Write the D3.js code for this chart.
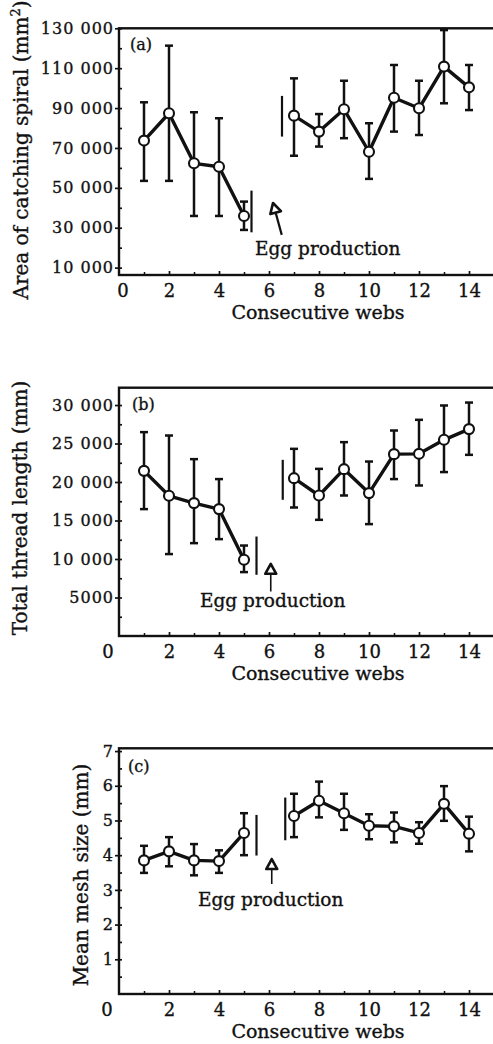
<!DOCTYPE html>
<html>
<head>
<meta charset="utf-8">
<script src="https://cdn.jsdelivr.net/npm/d3@7"></script>
<style>
  body { margin: 0; background: #fff; }
  svg text { font-family: "DejaVu Serif", serif; fill: #111; stroke: #111; stroke-width: 0.35px; }
</style>
</head>
<body>
<div id="chart"></div>
<script>
// D A T A
var webs = [1, 2, 3, 4, 5, 7, 8, 9, 10, 11, 12, 13, 14];
var webTicks = [2, 4, 6, 8, 10, 12, 14];
var webMinor = [1, 3, 5, 7, 9, 11, 13];

// (a) area of catching spiral, mm2
var spiralMean = [73700, 87400, 62300, 60600, 35900, 86200, 78200, 89400, 68100, 95200, 89900, 110800, 100400];
var spiralHi   = [92900, 121300, 87900, 84900, 43100, 104900, 87000, 103700, 82400, 111600, 103700, 129100, 111600];
var spiralLo   = [53500, 53500, 35900, 35900, 28900, 66100, 70700, 74900, 54500, 78200, 76500, 92400, 89000];
var spiralTicks = [10000, 30000, 50000, 70000, 90000, 110000, 130000];
var spiralMinor = [20000, 40000, 60000, 80000, 100000, 120000];
var spiralBreaks = [[5.3, 27700, 48600], [6.52, 75700, 96100]];

// (b) total thread length, mm
var threadMean = [21450, 18210, 17260, 16480, 9900, 20500, 18250, 21670, 18560, 23620, 23660, 25480, 26870];
var threadHi   = [26480, 26040, 22970, 20380, 11750, 24310, 21710, 25180, 22660, 26690, 28080, 29940, 30320];
var threadLo   = [16480, 10640, 12060, 12580, 8300, 16690, 15090, 18250, 14530, 20380, 19550, 21290, 23530];
var threadTicks = [5000, 10000, 15000, 20000, 25000, 30000];
var threadMinor = [2500, 7500, 12500, 17500, 22500, 27500];
var threadBreaks = [[5.5, 7950, 12920], [6.55, 17690, 22880]];

// (c) mean mesh size, mm
var meshMean = [3.85, 4.11, 3.85, 3.83, 4.64, 5.13, 5.57, 5.21, 4.85, 4.83, 4.64, 5.48, 4.62];
var meshHi   = [4.27, 4.52, 4.32, 4.14, 5.21, 5.77, 6.12, 5.77, 5.18, 5.23, 4.95, 5.99, 5.11];
var meshLo   = [3.49, 3.68, 3.42, 3.49, 4.00, 4.52, 5.09, 4.73, 4.46, 4.37, 4.33, 4.99, 4.11];
var meshTicks = [1, 2, 3, 4, 5, 6, 7];
var meshMinor = [0.5, 1.5, 2.5, 3.5, 4.5, 5.5, 6.5];
var meshBreaks = [[5.5, 3.99, 5.16], [6.65, 4.43, 5.66]];

// annotation anchors, in data units: arrow [tailX, tailY, tipX, tipY], text [x, y]
var eggArrows = [[6.51, 26400, 6.16, 42400], [6.07, 5780, 6.07, 9380], [6.11, 3.17, 6.11, 3.89]];
var eggText = [[5.44, 16400], [3.24, 3830], [3.16, 2.54]];
var panelTags = ['(a)', '(b)', '(c)'];
var tagPos = [[0.44, 119300], [0.52, 29300], [0.36, 6.4]];
var yTitles = ['Area of catching spiral (mm', 'Total thread length (mm)', 'Mean mesh size (mm)'];
var xTitle = 'Consecutive webs';

window.onload = function () {

    const width = 493;
    const height = 1044;
    const x0 = 119, xPerWeb = 25;

    var svg = d3.select('#chart').append('svg')
        .attr('width', width)
        .attr('height', height);

    function spaced(v) {
        // 10 000 style, but 5000 stays plain
        if (v < 10000) return String(v);
        return d3.format(',')(v).replace(/,/g, ' ');
    }

    var panels = [
        { mean: spiralMean, hi: spiralHi, lo: spiralLo, ticks: spiralTicks, minor: spiralMinor,
          breaks: spiralBreaks, domain: [6300, 130000], top: 28.3, bottom: 275, fmt: spaced,
          titleX: 28, titleY: 150, sup: true, zeroDx: 4, shaft: 2.2 },
        { mean: threadMean, hi: threadHi, lo: threadLo, ticks: threadTicks, minor: threadMinor,
          breaks: threadBreaks, domain: [0, 32250], top: 387.7, bottom: 636, fmt: spaced,
          titleX: 27, titleY: 508, sup: false, zeroDx: -11, shaft: 1.6 },
        { mean: meshMean, hi: meshHi, lo: meshLo, ticks: meshTicks, minor: meshMinor,
          breaks: meshBreaks, domain: [0, 7.08], top: 748.3, bottom: 994, fmt: d3.format('d'),
          titleX: 88, titleY: 875, sup: false, zeroDx: -12, shaft: 1.6 }
    ];

    var x = d3.scaleLinear().domain([0, 15]).range([x0, x0 + 15 * xPerWeb]);

    panels.forEach(function (p, k) {
        var y = d3.scaleLinear().domain(p.domain).range([p.bottom, p.top]);
        var g = svg.append('g');

        var pts = webs.map(function (w, i) {
            return { web: w, mean: p.mean[i], hi: p.hi[i], lo: p.lo[i] };
        });

        // B O X  (right side runs off the page, as in the scan)
        g.append('rect')
            .attr('x', x(0)).attr('y', y(p.domain[1]))
            .attr('width', x(15.3) - x(0))
            .attr('height', y(p.domain[0]) - y(p.domain[1]))
            .attr('fill', 'none').attr('stroke', '#111').attr('stroke-width', 2.4);

        // Y  A X I S
        var yAxis = g.append('g')
            .attr('transform', 'translate(' + x(0) + ',0)')
            .call(d3.axisLeft(y).tickValues(p.ticks).tickSize(4).tickPadding(1).tickFormat(p.fmt));
        yAxis.select('.domain').remove();
        yAxis.selectAll('line').attr('x1', 3).attr('stroke', '#111').attr('stroke-width', 1.7);
        yAxis.selectAll('text')
            .style('font-size', '16px').style('letter-spacing', '1px')
            .attr('fill', '#111');

        var yMinor = g.append('g')
            .attr('transform', 'translate(' + x(0) + ',0)')
            .call(d3.axisLeft(y).tickValues(p.minor).tickSize(-3).tickFormat(''));
        yMinor.select('.domain').remove();
        yMinor.selectAll('line').attr('stroke', '#111').attr('stroke-width', 1.7);

        // X  A X I S
        var xAxis = g.append('g')
            .attr('transform', 'translate(0,' + p.bottom + ')')
            .call(d3.axisBottom(x).tickValues(webTicks).tickSize(-4).tickPadding(9));
        xAxis.select('.domain').remove();
        xAxis.selectAll('line').attr('stroke', '#111').attr('stroke-width', 1.7);
        xAxis.selectAll('text').style('font-size', '18px').attr('fill', '#111');

        var xMinor = g.append('g')
            .attr('transform', 'translate(0,' + p.bottom + ')')
            .call(d3.axisBottom(x).tickValues(webMinor).tickSize(-3).tickFormat(''));
        xMinor.select('.domain').remove();
        xMinor.selectAll('line').attr('stroke', '#111').attr('stroke-width', 1.5);

        // origin label
        g.append('text')
            .attr('x', x(0) + p.zeroDx).attr('y', p.bottom + 22)
            .attr('text-anchor', 'middle')
            .style('font-size', '18px')
            .text('0');

        // T I T L E S
        var yt = g.append('text')
            .attr('transform', 'translate(' + p.titleX + ',' + p.titleY + ') rotate(-90)')
            .attr('text-anchor', 'middle')
            .style('font-size', '20px')
            .text(yTitles[k]);
        if (p.sup) {
            yt.append('tspan').attr('dy', -8).style('font-size', '13px').text('2');
            yt.append('tspan').attr('dy', 8).text(')');
        }

        g.append('text')
            .attr('x', x(7.96)).attr('y', p.bottom + 44)
            .attr('text-anchor', 'middle')
            .style('font-size', '19px')
            .text(xTitle);

        g.append('text')
            .attr('x', x(tagPos[k][0])).attr('y', y(tagPos[k][1]))
            .style('font-size', '16px')
            .text(panelTags[k]);

        // B R E A K  B A R S
        g.selectAll('.brk').data(p.breaks).enter().append('line')
            .attr('x1', function (d) { return x(d[0]); })
            .attr('x2', function (d) { return x(d[0]); })
            .attr('y1', function (d) { return y(d[1]); })
            .attr('y2', function (d) { return y(d[2]); })
            .attr('stroke', '#111').attr('stroke-width', 2.2);

        // E R R O R  B A R S
        var eb = g.selectAll('.eb').data(pts).enter().append('g');
        eb.append('line')
            .attr('x1', function (d) { return x(d.web); })
            .attr('x2', function (d) { return x(d.web); })
            .attr('y1', function (d) { return y(d.lo); })
            .attr('y2', function (d) { return y(d.hi); })
            .attr('stroke', '#111').attr('stroke-width', 2.5);
        ['lo', 'hi'].forEach(function (key) {
            eb.append('line')
                .attr('x1', function (d) { return x(d.web) - 4; })
                .attr('x2', function (d) { return x(d.web) + 4; })
                .attr('y1', function (d) { return y(d[key]); })
                .attr('y2', function (d) { return y(d[key]); })
                .attr('stroke', '#111').attr('stroke-width', 2.5);
        });

        // L I N E  (broken where a web is missing)
        var segs = [[]];
        pts.forEach(function (d, i) {
            if (i > 0 && d.web - pts[i - 1].web > 1) segs.push([]);
            segs[segs.length - 1].push(d);
        });
        var line = d3.line()
            .x(function (d) { return x(d.web); })
            .y(function (d) { return y(d.mean); });
        g.selectAll('.seg').data(segs).enter().append('path')
            .attr('d', line)
            .attr('fill', 'none').attr('stroke', '#111')
            .attr('stroke-width', 3.4).attr('stroke-linejoin', 'round');

        // P O I N T S
        g.selectAll('.pt').data(pts).enter().append('circle')
            .attr('cx', function (d) { return x(d.web); })
            .attr('cy', function (d) { return y(d.mean); })
            .attr('r', 5)
            .attr('fill', '#fff').attr('stroke', '#111').attr('stroke-width', 2.1);

        // E G G  P R O D U C T I O N  arrow + label
        var a = eggArrows[k];
        var tx = x(a[0]), ty = y(a[1]), hx = x(a[2]), hy = y(a[3]);
        var ang = Math.atan2(hy - ty, hx - tx);
        var hl = 10, hw = 5.5;
        var bx = hx - hl * Math.cos(ang), by = hy - hl * Math.sin(ang);
        g.append('line')
            .attr('x1', tx).attr('y1', ty).attr('x2', bx).attr('y2', by)
            .attr('stroke', '#111').attr('stroke-width', p.shaft);
        g.append('path')
            .attr('d', 'M' + hx + ',' + hy +
                'L' + (bx + hw * Math.sin(ang)) + ',' + (by - hw * Math.cos(ang)) +
                'L' + (bx - hw * Math.sin(ang)) + ',' + (by + hw * Math.cos(ang)) + 'Z')
            .attr('fill', '#fff').attr('stroke', '#111')
            .attr('stroke-width', 2.6).attr('stroke-linejoin', 'round');

        g.append('text')
            .attr('x', x(eggText[k][0])).attr('y', y(eggText[k][1]))
            .style('font-size', '18.5px')
            .text('Egg production');
    });

}; // end window.onload
</script>
</body>
</html>
